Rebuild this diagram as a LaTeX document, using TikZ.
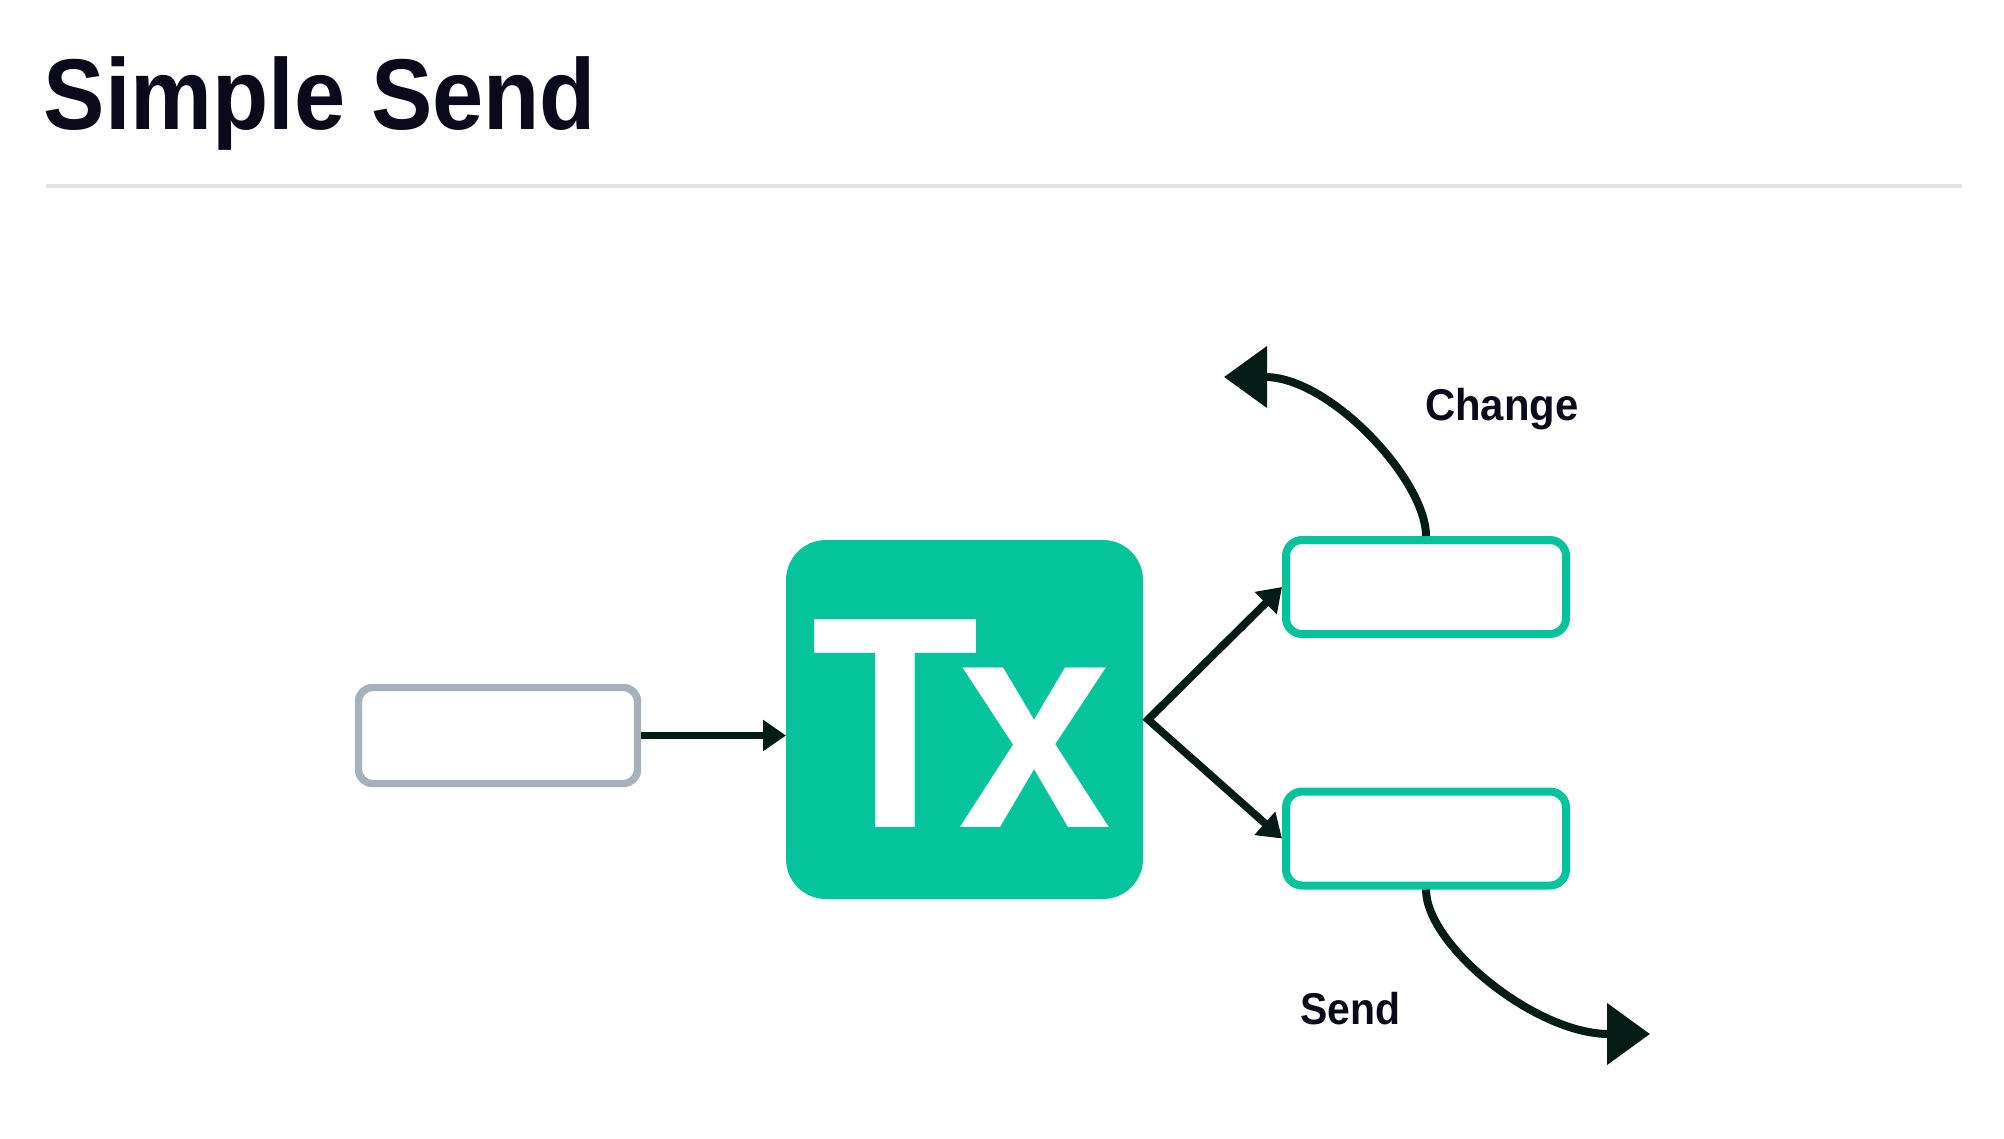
\documentclass[tikz,border=0pt]{standalone}
\usepackage{fontspec}
\setmainfont{Liberation Sans}
\usetikzlibrary{arrows.meta}
\definecolor{txgreen}{HTML}{05C39A}
\definecolor{boxgray}{HTML}{A6B1BA}
\definecolor{arrowc}{HTML}{031C16}
\definecolor{textc}{HTML}{0A0A1A}
\definecolor{sepc}{HTML}{E2E2E2}
\tikzset{
  graybox/.style={draw=boxgray, line width=7.4pt, rounded corners=14pt, minimum width=279pt, minimum height=96pt, inner sep=0pt},
  greenbox/.style={draw=txgreen, line width=8pt, rounded corners=16pt, minimum width=280pt, minimum height=94pt, inner sep=0pt},
  txbox/.style={fill=txgreen, rounded corners=40pt, minimum width=357pt, minimum height=359pt, inner sep=0pt, outer sep=0pt},
  arr/.style={draw=arrowc, line width=7.7pt, -{Triangle[length=23pt,width=30pt]}},
  bigarr/.style={draw=arrowc, line width=8pt, -{Triangle[length=43pt,width=60pt]}},
  lbl/.style={anchor=base west, inner sep=0pt, text=textc, font=\bfseries\fontsize{44.5}{50}\selectfont},
}
\begin{document}
\begin{tikzpicture}[x=1pt,y=-1pt]
\useasboundingbox (0,0) rectangle (2004,1138);
% title
\node[anchor=base west, inner sep=0pt, text=textc] (title) at (43.5,129)
  {\scalebox{0.915}[1]{\bfseries\fontsize{100.6}{110}\selectfont Simple Send}};
\coordinate (sepL) at (46,186);
\coordinate (sepR) at (1962,186);
\draw[sepc, line width=4pt] (sepL) -- (sepR);
% nodes
\node[graybox] (in) at (498,735.5) {};
\node[txbox] (tx) at (964.5,719.5) {};
\node[anchor=base west, inner sep=0pt, text=white] (txt) at (811,827)
  {\scalebox{0.91}[1]{\bfseries\fontsize{302}{310}\selectfont T\kern-22.4pt x}};
\node[greenbox] (top) at (1426,587) {};
\node[greenbox] (bot) at (1426,838.5) {};
% connectors
\draw[arr] (in.east) -- (in.east -| tx.west);
\draw[draw=arrowc, line width=7.7pt, {Triangle[length=23pt,width=30pt]}-{Triangle[length=23pt,width=30pt]}]
  (top.west) -- ([xshift=5pt]tx.east) -- (bot.west);
\coordinate (chg) at (1224,377);
\coordinate (snd) at (1650,1034);
\draw[bigarr] (top.north) .. controls (1426,480) and (1330,377) .. (chg);
\draw[bigarr] (bot.south) .. controls (1426,945) and (1535,1034) .. (snd);
% labels
\node[lbl] (lchg) at (1425,420) {\scalebox{0.94}[1]{Change}};
\node[lbl] (lsnd) at (1300,1024) {\scalebox{0.92}[1]{Send}};
\end{tikzpicture}
\end{document}
